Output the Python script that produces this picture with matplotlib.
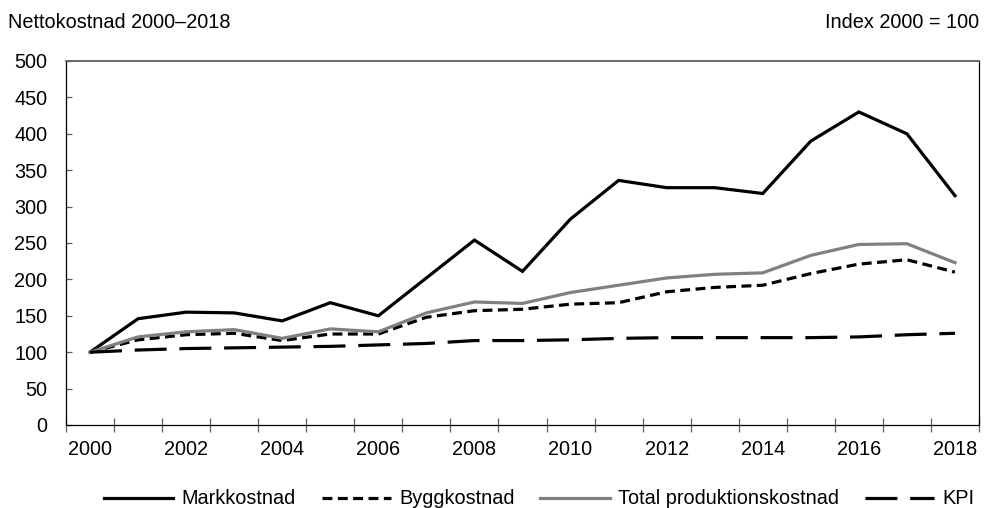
import matplotlib
matplotlib.use("Agg")
import matplotlib.pyplot as plt
import numpy as np

plt.rcParams['font.family'] = ['Liberation Sans', 'DejaVu Sans']

years = list(range(2000, 2019))
markkostnad = [100, 146, 155, 154, 143, 168, 150, 202, 254, 211, 283,
               336, 326, 326, 318, 390, 430, 400, 315]
byggkostnad = [100, 117, 124, 126, 116, 125, 125, 148, 157, 159, 166,
               168, 183, 189, 192, 208, 221, 227, 210]
total_prod = [100, 121, 128, 131, 119, 132, 128, 154, 169, 167, 182,
              192, 202, 207, 209, 233, 248, 249, 223]
kpi = [100, 103, 105, 106, 107, 108, 110, 112, 116, 116, 117,
       119, 120, 120, 120, 120, 121, 124, 126]

title = "Nettokostnad 2000–2018"
unit_note = "Index 2000 = 100"
labels = ["Markkostnad", "Byggkostnad", "Total produktionskostnad", "KPI"]

FS = 14.3
fig = plt.figure(figsize=(9.92, 5.08), dpi=100)
ax = fig.add_axes([66 / 992, 1 - 425 / 508, (979 - 66) / 992, (425 - 61) / 508])

lw = 2.3
l1, = ax.plot(years, markkostnad, color="black", lw=lw, solid_joinstyle="miter",
              label=labels[0])
l2, = ax.plot(years, byggkostnad, color="black", lw=lw, label=labels[1],
              dash_capstyle="butt")
l2.set_dashes([3.1, 1.7])
l3, = ax.plot(years, total_prod, color="#808080", lw=lw, label=labels[2])
l4, = ax.plot(years, kpi, color="black", lw=lw, label=labels[3],
              dash_capstyle="butt")
l4.set_dashes([10.0, 4.0])

ax.set_xlim(1999.5, 2018.5)
ax.set_ylim(0, 500)

# category boundaries as major ticks, year labels on minor ticks
ax.set_xticks(np.arange(1999.5, 2019.0, 1.0))
ax.set_xticklabels([])
ax.set_xticks(years[::2], minor=True)
ax.set_xticklabels([str(y) for y in years[::2]], minor=True, fontsize=FS)
ax.tick_params(axis="x", which="major", direction="inout", length=9.5,
               width=0.9, color="#606060")
ax.tick_params(axis="x", which="minor", length=0, pad=10.5)

ax.set_yticks(np.arange(0, 501, 50))
ax.tick_params(axis="y", direction="in", length=4.5, width=0.9,
               color="#606060", pad=13.5, labelsize=FS)

for side in ["left", "bottom", "right"]:
    ax.spines[side].set_color("black")
    ax.spines[side].set_linewidth(0.9)
ax.spines["top"].set_color("#606060")
ax.spines["top"].set_linewidth(1.3)

fig.text(8 / 992, 1 - 22 / 508, title, fontsize=FS, ha="left", va="center")
fig.text(979 / 992, 1 - 22 / 508, unit_note, fontsize=FS, ha="right", va="center")

fig.legend(handles=[l1, l2, l3, l4], loc="center",
           bbox_to_anchor=(539 / 992, 1 - 499 / 508), ncol=4, frameon=False,
           fontsize=FS, handlelength=3.5, handletextpad=0.4,
           columnspacing=1.3, borderaxespad=0, borderpad=0)

fig.savefig("out.png", dpi=100)
